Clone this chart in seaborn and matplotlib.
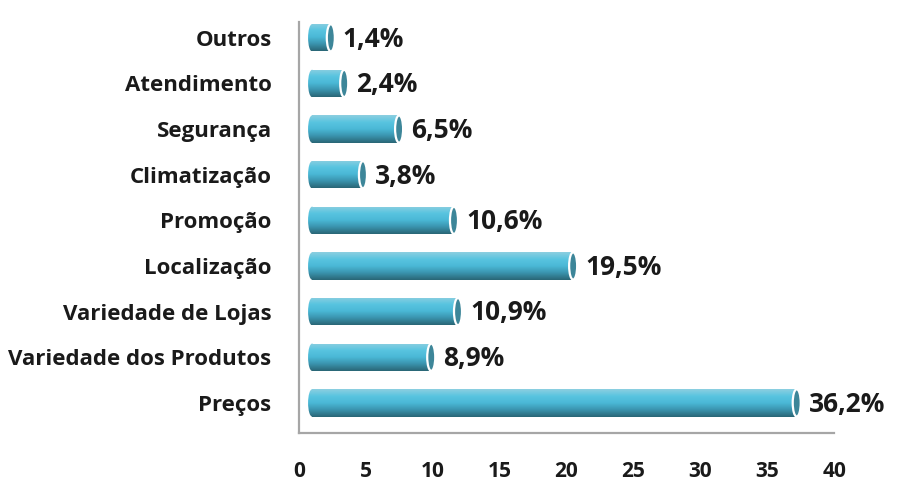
import matplotlib
matplotlib.use("Agg")
import matplotlib.pyplot as plt
from matplotlib.colors import LinearSegmentedColormap
from matplotlib.patches import Ellipse
import numpy as np
import pandas as pd
import seaborn as sns

categories = ["Outros", "Atendimento", "Segurança", "Climatização", "Promoção",
              "Localização", "Variedade de Lojas", "Variedade dos Produtos", "Preços"]
values = [1.4, 2.4, 6.5, 3.8, 10.6, 19.5, 10.9, 8.9, 36.2]
labels = ["1,4%", "2,4%", "6,5%", "3,8%", "10,6%", "19,5%", "10,9%", "8,9%", "36,2%"]
x_ticks = [0, 5, 10, 15, 20, 25, 30, 35, 40]

df = pd.DataFrame({"motivo": categories, "pct": values})

sns.set_style("white")
plt.rcParams["font.family"] = ["Open Sans", "DejaVu Sans"]

fig = plt.figure(figsize=(8.97, 4.96), dpi=100)
ax = fig.add_axes([0.333, 0.127, 0.597, 0.829])

BAR_H = 0.6
DEPTH = 1.0
CAP_W = 0.6

sns.barplot(data=df, x="pct", y="motivo", order=categories, orient="h",
            width=BAR_H, color="#4fbedb", ax=ax, zorder=2)

# cylinder look: vertical gradient clipped to each bar + dark end cap
grad = LinearSegmentedColormap.from_list(
    "cyl", ["#8ccfe0", "#58c4e0", "#4ab8d6", "#3a93ad", "#2a6676"])
img = np.linspace(0, 1, 64).reshape(-1, 1)

for p, lab in zip(ax.patches, labels):
    p.set_x(p.get_x() + DEPTH)
    x0, y0 = p.get_x(), p.get_y()
    w, h = p.get_width(), p.get_height()
    yc = y0 + h / 2
    p.set_facecolor("none")
    p.set_edgecolor("none")
    left = Ellipse((x0, yc), CAP_W, h, facecolor="none", edgecolor="none")
    ax.add_patch(left)
    for clip, (a, b) in ((p, (x0, x0 + w)), (left, (x0 - CAP_W / 2, x0 + CAP_W / 2))):
        im = ax.imshow(img, cmap=grad, aspect="auto", origin="upper",
                       extent=(a, b, y0 + h, y0), zorder=2, interpolation="bilinear")
        im.set_clip_path(clip)
    ax.add_patch(Ellipse((x0 + w, yc), CAP_W, h, facecolor="#3d8699",
                         edgecolor="white", linewidth=1.6, zorder=3))
    ax.text(x0 + w + 0.9, yc + 0.03, lab, ha="left", va="center",
            fontsize=19, fontweight="bold", color="#1a1a1a", zorder=4)

ax.set_xlim(0, 40)
ax.set_ylim(8.66, -0.35)
ax.set_xticks(x_ticks)
ax.set_xlabel("")
ax.set_ylabel("")
ax.tick_params(axis="x", length=0, pad=20, labelsize=15)
ax.tick_params(axis="y", length=0, pad=19.5, labelsize=16)
for t in ax.get_xticklabels() + ax.get_yticklabels():
    t.set_fontweight("bold")
    t.set_color("#1a1a1a")

sns.despine(ax=ax)
for s in ("left", "bottom"):
    ax.spines[s].set_color("#a6a6a6")
    ax.spines[s].set_linewidth(1.6)

fig.savefig("out.png", dpi=100)
